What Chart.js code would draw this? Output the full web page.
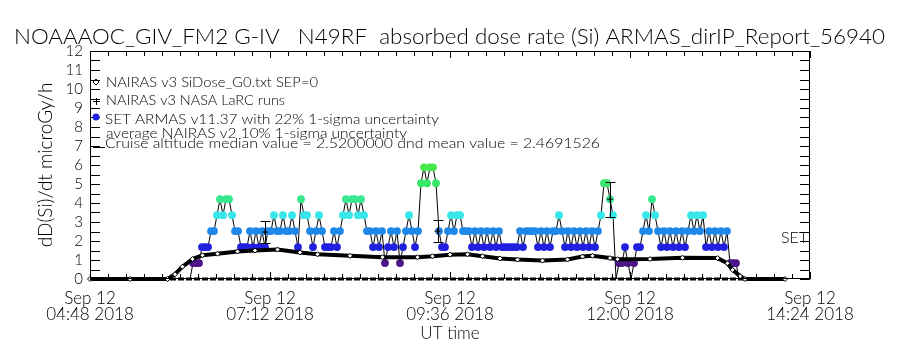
<!DOCTYPE html>
<html>
<head>
<meta charset="utf-8">
<script src="https://cdn.jsdelivr.net/npm/chart.js@4"></script>
<style>
  html, body { margin: 0; padding: 0; background: #fff; }
</style>
</head>
<body>
<canvas id="doseChart" width="900" height="350"></canvas>
<script>
// x values are minutes after 00:00 UT on 12 Sep 2018
const xTickDate = 'Sep 12';
const xTickLabels = ['04:48 2018', '07:12 2018', '09:36 2018', '12:00 2018', '14:24 2018'];

// NAIRAS v3 SiDose_G0 model along the flight track
const nairasTime = [288, 320, 350, 356, 362, 370, 378, 390, 406, 420, 438, 456, 470, 496, 522, 550, 562, 576,
  590, 602, 616, 630, 650, 670, 682, 690, 704, 710, 736, 762, 790, 798, 802, 808, 812, 844];
const nairasDose = [0, 0, 0, 0.25, 0.65, 1.05, 1.25, 1.33, 1.45, 1.5, 1.55, 1.4, 1.3, 1.22, 1.15, 1.15, 1.2, 1.28,
  1.3, 1.2, 1.08, 1.02, 0.97, 1.03, 1.18, 1.22, 1.1, 1.04, 1.05, 1.12, 1.1, 0.83, 0.48, 0.15, 0, 0];

// NAIRAS v3 NASA LaRC runs (value and 1-sigma)
const larcTime = [428, 566, 704];
const larcDose = [2.47, 2.52, 4.2];
const larcErr = [0.58, 0.58, 0.92];

// SET ARMAS v11.37 records
const armasStart = 368;   // first record, minutes UT
const armasStep = 2.4;    // record cadence, minutes
const armasDose = [
  0, 0.84, 0.84, 0.84, 1.68, 1.68, 1.68, 2.52, 2.52, 3.36,
  4.2, 3.36, 4.2, 4.2, 3.36, 2.52, 2.52, 1.68, 1.68, 1.68,
  2.52, 1.68, 2.52, 1.68, 2.52, 1.68, 2.52, 2.52, 3.36, 2.52,
  2.52, 3.36, 2.52, 2.52, 3.36, 2.52, 1.68, 4.2, 3.36, 3.36,
  2.52, 1.68, 2.52, 3.36, 2.52, 1.68, 1.68, 1.68, 2.52, 1.68,
  2.52, 3.36, 4.2, 3.36, 4.2, 4.2, 3.36, 4.2, 3.36, 2.52,
  2.52, 1.68, 2.52, 1.68, 2.52, 0.84, 1.68, 2.52, 1.68, 2.52,
  0.84, 1.68, 2.52, 3.36, 2.52, 1.68, 2.52, 5.04, 5.88, 5.04,
  5.88, 5.88, 5.04, 2.52, 1.68, 1.68, 2.52, 3.36, 2.52, 3.36,
  3.36, 2.52, 2.52, 2.52, 1.68, 2.52, 1.68, 2.52, 1.68, 2.52,
  1.68, 2.52, 1.68, 2.52, 1.68, 1.68, 1.68, 1.68, 1.68, 1.68,
  2.52, 1.68, 2.52, 2.52, 2.52, 2.52, 1.68, 2.52, 1.68, 2.52,
  1.68, 2.52, 2.52, 3.36, 2.52, 1.68, 2.52, 1.68, 2.52, 1.68,
  2.52, 1.68, 2.52, 1.68, 2.52, 1.68, 2.52, 3.36, 5.04, 5.04,
  4.2, 3.36, 0, 0.84, 0.84, 1.68, 0.84, 0, 0.84, 1.68,
  1.68, 2.52, 3.36, 2.52, 4.2, 3.36, 2.52, 1.68, 2.52, 1.68,
  2.52, 1.68, 2.52, 1.68, 2.52, 1.68, 2.52, 3.36, 2.52, 3.36,
  2.52, 3.36, 1.68, 2.52, 1.68, 2.52, 1.68, 2.52, 1.68, 2.52,
  0.84, 0.84, 0.84, 0
];

// zero level line drawn under everything
const baseTime = [288, 844];
const baseDose = [0, 0];

const FONT = "'Liberation Sans', Arial, sans-serif";
const THIN = "Lato, 'Liberation Sans', sans-serif";

function doseColor(v) {
  if (v < 0.1) return '#000000';
  if (v < 1.2) return '#4b1487';
  if (v < 2.0) return '#2020e0';
  if (v < 2.9) return '#1e88ea';
  if (v < 3.8) return '#38e6ea';
  if (v < 4.6) return '#38e88c';
  if (v < 5.4) return '#38e86a';
  return '#46e84a';
}

function fitText(ctx, str, left, midY, width, size) {
  ctx.save();
  ctx.font = '300 ' + size + 'px ' + THIN;
  const w = ctx.measureText(str).width;
  ctx.translate(left, midY);
  ctx.scale(width / w, 1);
  ctx.textBaseline = 'middle';
  ctx.textAlign = 'left';
  ctx.fillStyle = '#000';
  ctx.fillText(str, 0, 0);
  ctx.restore();
}

const isMajor = v => Math.round((v - 288) / 14.4) % 10 === 0;

const annotate = {
  id: 'annotate',
  afterDatasetsDraw(chart) {
    const { ctx, chartArea: a, scales: { x, y } } = chart;
    ctx.save();
    ctx.strokeStyle = '#000';
    ctx.fillStyle = '#000';
    ctx.lineWidth = 1;

    // LaRC error bars
    ctx.beginPath();
    larcTime.forEach((t, i) => {
      const px = Math.round(x.getPixelForValue(t)) + 0.5;
      const top = Math.round(y.getPixelForValue(larcDose[i] + larcErr[i])) + 0.5;
      const bot = Math.round(y.getPixelForValue(larcDose[i] - larcErr[i])) + 0.5;
      ctx.moveTo(px, top); ctx.lineTo(px, bot);
      ctx.moveTo(px - 5, top); ctx.lineTo(px + 5, top);
      ctx.moveTo(px - 5, bot); ctx.lineTo(px + 5, bot);
    });
    ctx.stroke();

    // frame and inward ticks
    ctx.strokeRect(a.left + 0.5, a.top + 0.5, a.right - a.left - 1, a.bottom - a.top - 1);
    ctx.beginPath();
    x.ticks.forEach(t => {
      const px = Math.round(x.getPixelForValue(t.value)) + 0.5;
      const len = isMajor(t.value) ? 7 : 5;
      ctx.moveTo(px, a.top); ctx.lineTo(px, a.top + len);
      ctx.moveTo(px, a.bottom); ctx.lineTo(px, a.bottom - len);
    });
    y.ticks.forEach(t => {
      const py = Math.round(y.getPixelForValue(t.value)) + 0.5;
      ctx.moveTo(a.left, py); ctx.lineTo(a.left + 10, py);
      ctx.moveTo(a.right, py); ctx.lineTo(a.right - 10, py);
    });
    ctx.stroke();

    // title
    fitText(ctx, 'NOAAAOC_GIV_FM2 G-IV   N49RF  absorbed dose rate (Si) ARMAS_dirIP_Report_56940', 14, 37, 871, 21);

    // legend
    ctx.beginPath();
    ctx.moveTo(96, 79); ctx.lineTo(99, 82); ctx.lineTo(96, 85); ctx.lineTo(93, 82); ctx.closePath();
    ctx.moveTo(93, 101.5); ctx.lineTo(100, 101.5);
    ctx.moveTo(96.5, 98); ctx.lineTo(96.5, 105);
    ctx.moveTo(93, 147.5); ctx.lineTo(105, 147.5);
    ctx.stroke();
    ctx.fillStyle = doseColor(1.68);
    ctx.beginPath();
    ctx.arc(96, 117, 3.5, 0, Math.PI * 2);
    ctx.fill();
    fitText(ctx, 'NAIRAS v3 SiDose_G0.txt SEP=0', 106, 82, 212, 14);
    fitText(ctx, 'NAIRAS v3 NASA LaRC runs', 106, 100, 179, 14);
    fitText(ctx, 'SET ARMAS v11.37 with 22% 1-sigma uncertainty', 105, 119, 334, 14);
    fitText(ctx, 'average NAIRAS v2 10% 1-sigma uncertainty', 106, 133, 301, 14);
    fitText(ctx, 'Cruise altitude median value = 2.5200000 dnd mean value = 2.4691526', 105, 143, 495, 14);

    // label at right edge
    ctx.font = '300 16px ' + THIN;
    ctx.fillStyle = '#000';
    ctx.textBaseline = 'middle';
    ctx.fillText('SET', 781, 238);
    ctx.restore();
  }
};

new Chart(document.getElementById('doseChart'), {
  type: 'line',
  data: {
    datasets: [
      {
        label: 'NAIRAS v3 NASA LaRC runs',
        data: larcTime.map((t, i) => ({ x: t, y: larcDose[i] })),
        showLine: false,
        pointStyle: 'cross',
        pointRadius: 3,
        borderColor: '#000',
        borderWidth: 1
      },
      {
        label: 'NAIRAS v3 SiDose_G0.txt SEP=0',
        data: nairasTime.map((t, i) => ({ x: t, y: nairasDose[i] })),
        borderColor: '#000',
        borderWidth: 4,
        pointStyle: 'rectRot',
        pointRadius: 2.5,
        pointBackgroundColor: '#fff',
        pointBorderColor: '#000',
        pointBorderWidth: 1,
        clip: false
      },
      {
        label: 'SET ARMAS v11.37',
        data: armasDose.map((v, i) => ({ x: armasStart + i * armasStep, y: v })),
        borderColor: '#000',
        borderWidth: 1,
        pointRadius: c => (c.raw && c.raw.y > 0 ? 3.9 : 0),
        pointBackgroundColor: c => doseColor(c.raw ? c.raw.y : 0),
        pointBorderWidth: 0,
        clip: false
      },
      {
        label: 'zero level',
        data: baseTime.map((t, i) => ({ x: t, y: baseDose[i] })),
        borderColor: '#000',
        borderWidth: 3,
        borderDash: [6, 2],
        pointRadius: 0,
        clip: false
      }
    ]
  },
  options: {
    responsive: false,
    animation: false,
    devicePixelRatio: 1,
    layout: { padding: { top: 51, right: 90, left: 0, bottom: 0 } },
    plugins: {
      legend: { display: false },
      tooltip: { enabled: false },
      title: { display: false }
    },
    elements: { line: { tension: 0 } },
    scales: {
      x: {
        type: 'linear',
        min: 288,
        max: 864,
        afterBuildTicks: s => {
          const ticks = [];
          for (let k = 0; k <= 40; k++) ticks.push({ value: 288 + k * 14.4 });
          s.ticks = ticks;
        },
        afterFit: s => { s.height = 71; },
        grid: { display: false, drawTicks: false },
        border: { display: false },
        ticks: {
          autoSkip: false,
          maxRotation: 0,
          padding: 11,
          color: '#000',
          font: { family: THIN, size: 17, weight: '300', lineHeight: 0.95 },
          callback: v => isMajor(v) ? [xTickDate, xTickLabels[Math.round((v - 288) / 144)]] : ''
        },
        title: {
          display: true,
          text: 'UT time',
          color: '#000',
          font: { family: THIN, size: 17, weight: '300' },
          padding: { top: 0, bottom: 6 }
        }
      },
      y: {
        min: 0,
        max: 12,
        afterBuildTicks: s => {
          const ticks = [];
          for (let k = 0; k <= 24; k++) ticks.push({ value: k * 0.5 });
          s.ticks = ticks;
        },
        afterFit: s => { s.width = 90; },
        grid: { display: false, drawTicks: false },
        border: { display: false },
        ticks: {
          autoSkip: false,
          padding: 7,
          color: '#000',
          font: { family: THIN, size: 15, weight: '300' },
          callback: v => Number.isInteger(v) ? String(v) : ''
        },
        title: {
          display: true,
          text: 'dD(Si)/dt microGy/h',
          color: '#000',
          font: { family: THIN, size: 19, weight: '300' },
          padding: { top: 34, bottom: 0 }
        }
      }
    }
  },
  plugins: [annotate]
});
</script>
</body>
</html>
